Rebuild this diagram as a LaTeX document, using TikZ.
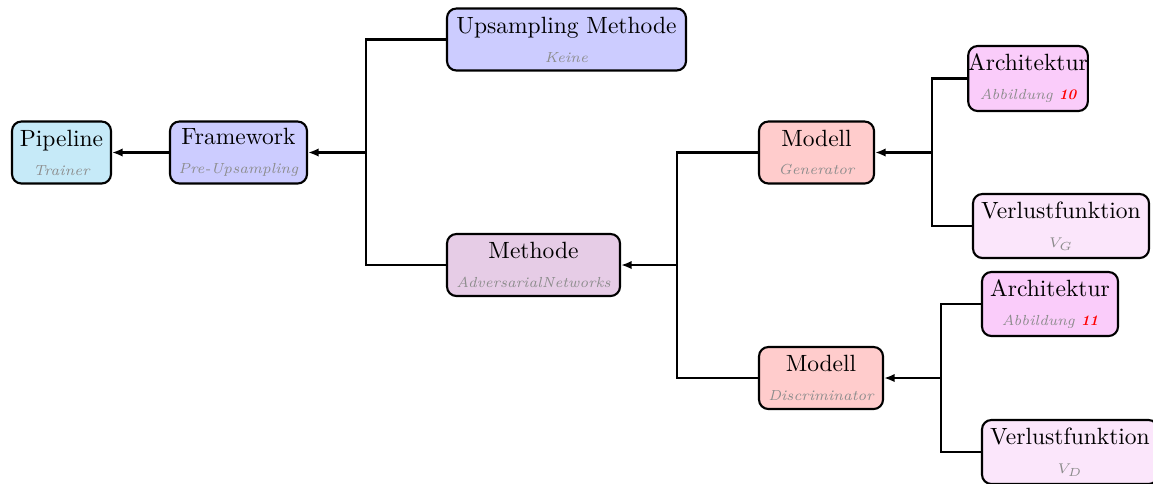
\documentclass[tikz,border=0pt]{standalone}
\usetikzlibrary{arrows.meta}
\definecolor{cpipe}{RGB}{198,234,248}
\definecolor{cblue}{RGB}{204,204,255}
\definecolor{cviolet}{RGB}{230,204,230}
\definecolor{cred}{RGB}{255,204,204}
\definecolor{cmag}{RGB}{250,204,250}
\definecolor{cmagl}{RGB}{251,230,251}
\newcommand{\sub}[1]{\\[0.3pt]{\fontsize{6.2}{7.5}\selectfont\itshape\color{black!45}#1}}
\newcommand{\fig}[1]{\textcolor{red}{\bfseries #1}}
\begin{document}
\begin{tikzpicture}[x=0.42553pt,y=-0.42553pt,
  box/.style={draw=black,line width=0.9pt,rounded corners=4pt,align=center,inner sep=0pt,
    minimum width=#1*0.42553pt},
  hb/.style={minimum height=62*0.42553pt},
  conn/.style={line width=0.9pt},
  arr/.style={line width=0.9pt,-{Latex[length=4.5pt,width=3.6pt]}}]
\useasboundingbox (0,0) rectangle (1153,483);
\node[box=99,hb,fill=cpipe] (pipe) at (61.5,152.5) {Pipeline\sub{Trainer}};
\node[box=137,hb,fill=cblue] (fw) at (238.5,152.5) {Framework\sub{Pre-Upsampling}};
\node[box=239,hb,fill=cblue] (ups) at (566.5,39.5) {Upsampling Methode\sub{Keine}};
\node[box=173,hb,fill=cviolet] (meth) at (533.5,265) {Methode\sub{AdversarialNetworks}};
\node[box=115,hb,fill=cred] (gen) at (816.5,152.5) {Modell\sub{Generator}};
\node[box=124,hb,fill=cred] (disc) at (821,378) {Modell\sub{Discriminator}};
\node[box=110,minimum height=65*0.42553pt,fill=cmag] (arch1) at (1028,78.5) {Architektur\sub{Abbildung \fig{10}}};
\node[box=176,minimum height=64*0.42553pt,fill=cmagl] (verl1) at (1061,226) {Verlustfunktion\sub{$V_G$}};
\node[box=136,minimum height=64*0.42553pt,fill=cmag] (arch2) at (1050,304) {Architektur\sub{Abbildung \fig{11}}};
\node[box=176,minimum height=64*0.42553pt,fill=cmagl] (verl2) at (1070,452) {Verlustfunktion\sub{$V_D$}};
\coordinate (j1) at (366,152.5);
\coordinate (j2) at (677,265);
\coordinate (j3) at (932,152.5);
\coordinate (j4) at (941,378);
\draw[arr] (fw.west) -- (pipe.east);
\draw[conn] (ups.west) -| (j1);
\draw[conn] (meth.west) -| (j1);
\draw[arr] (j1) -- (fw.east);
\draw[conn] (gen.west) -| (j2);
\draw[conn] (disc.west) -| (j2);
\draw[arr] (j2) -- (meth.east);
\draw[conn] (arch1.west) -| (j3);
\draw[conn] (verl1.west) -| (j3);
\draw[arr] (j3) -- (gen.east);
\draw[conn] (arch2.west) -| (j4);
\draw[conn] (verl2.west) -| (j4);
\draw[arr] (j4) -- (disc.east);
\end{tikzpicture}
\end{document}
